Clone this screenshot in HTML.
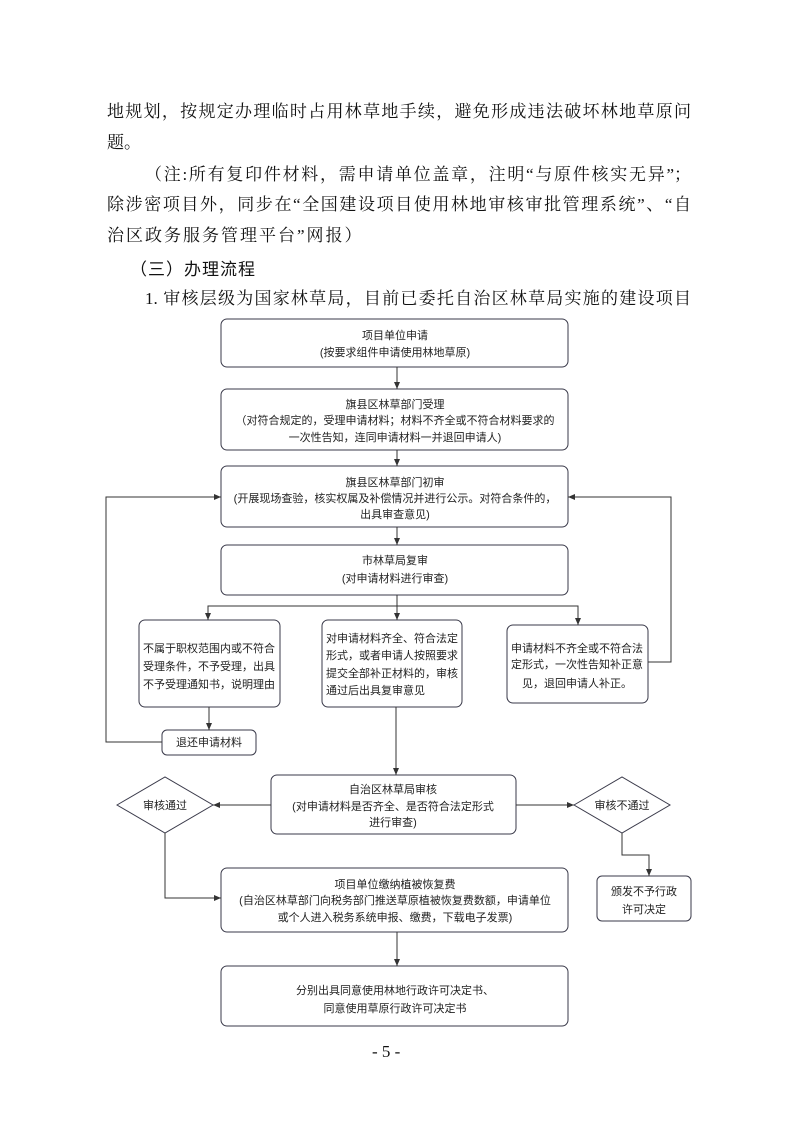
<!DOCTYPE html>
<html><head><meta charset="utf-8">
<style>
html,body{margin:0;padding:0;background:#fff;}
body{width:793px;height:1122px;position:relative;overflow:hidden;}
.t{position:absolute;font-family:"Liberation Serif","Noto Serif CJK SC",serif;font-size:17px;color:#111;line-height:20px;white-space:nowrap;}
.j{text-align:justify;text-align-last:justify;}
svg text{font-family:"Liberation Sans","Noto Sans CJK SC",sans-serif;font-size:11px;fill:#222;text-anchor:middle;}
svg text.l{text-anchor:start;}
</style></head><body>
<div class="t j" style="left:107px;top:102px;width:584px;">地规划，按规定办理临时占用林草地手续，避免形成违法破坏林地草原问</div>
<div class="t" style="left:107px;top:133px;">题。</div>
<div class="t j" style="left:145px;top:165px;width:546px;">（注:所有复印件材料，需申请单位盖章，注明“与原件核实无异”；</div>
<div class="t j" style="left:107px;top:195px;width:584px;">除涉密项目外，同步在“全国建设项目使用林地审核审批管理系统”、“自</div>
<div class="t" style="left:107px;top:226px;letter-spacing:2px;">治区政务服务管理平台”网报）</div>
<div class="t" style="left:130px;top:258px;letter-spacing:1px;font-family:'Noto Sans CJK SC',sans-serif;">（三）办理流程</div>
<div class="t j" style="left:145px;top:289px;width:546px;">1. 审核层级为国家林草局，目前已委托自治区林草局实施的建设项目</div>
<div class="t" style="left:372px;top:1042px;">- 5 -</div>

<svg width="793" height="1122" style="position:absolute;left:0;top:0" xmlns="http://www.w3.org/2000/svg">
<defs><marker id="a" markerWidth="8" markerHeight="8" refX="7" refY="4" orient="auto" markerUnits="userSpaceOnUse"><path d="M0,1 L7,4 L0,7 z" fill="#333"/></marker></defs>
<g fill="none" stroke="#3a3a4a" stroke-width="1">
<rect x="221" y="319" width="347" height="48" rx="6"/>
<rect x="221" y="389" width="347" height="61" rx="6"/>
<rect x="221" y="466" width="347" height="61" rx="6"/>
<rect x="221" y="545" width="347" height="50" rx="6"/>
<rect x="139" y="620" width="141" height="87" rx="6"/>
<rect x="322" y="620" width="140" height="87" rx="6"/>
<rect x="507" y="625" width="141" height="78" rx="6"/>
<rect x="162" y="730" width="94" height="25" rx="5"/>
<rect x="271" y="775" width="245" height="59" rx="6"/>
<polygon points="117,805 165,777 213,805 165,833"/>
<polygon points="574,805 622,777 670,805 622,833"/>
<rect x="221" y="868" width="347" height="64" rx="6"/>
<rect x="597" y="876" width="94" height="45" rx="5"/>
<rect x="221" y="966" width="347" height="60" rx="6"/>
</g>
<g fill="none" stroke="#333" stroke-width="1" marker-end="url(#a)">
<path d="M397,367 V389"/>
<path d="M397,450 V466"/>
<path d="M397,527 V545"/>
<path d="M397,595 V620"/>
<path d="M397,606 H208 V620"/>
<path d="M397,606 H578 V625"/>
<path d="M648,662 H671 V497 H568"/>
<path d="M209,707 V730"/>
<path d="M162,742 H106 V497 H221"/>
<path d="M396,707 V775"/>
<path d="M271,805 H213"/>
<path d="M516,805 H574"/>
<path d="M165,833 V898 H221"/>
<path d="M622,833 V855 H649 V876"/>
<path d="M397,932 V966"/>
</g>
<text x="395" y="339">项目单位申请</text>
<text x="395" y="356">(按要求组件申请使用林地草原)</text>
<text x="395" y="408">旗县区林草部门受理</text>
<text x="395" y="424">（对符合规定的，受理申请材料；材料不齐全或不符合材料要求的</text>
<text x="395" y="441">一次性告知，连同申请材料一并退回申请人)</text>
<text x="395" y="486">旗县区林草部门初审</text>
<text x="395" y="502">(开展现场查验，核实权属及补偿情况并进行公示。对符合条件的，</text>
<text x="395" y="518">出具审查意见)</text>
<text x="395" y="564">市林草局复审</text>
<text x="395" y="582">(对申请材料进行审查)</text>
<text x="209" y="652">不属于职权范围内或不符合</text>
<text x="209" y="670">受理条件，不予受理，出具</text>
<text x="209" y="688">不予受理通知书，说明理由</text>
<text class="l" x="326" y="642">对申请材料齐全、符合法定</text>
<text class="l" x="326" y="659">形式，或者申请人按照要求</text>
<text class="l" x="326" y="677">提交全部补正材料的，审核</text>
<text class="l" x="326" y="694">通过后出具复审意见</text>
<text x="577" y="652">申请材料不齐全或不符合法</text>
<text x="577" y="668">定形式，一次性告知补正意</text>
<text x="577" y="687">见，退回申请人补正。</text>
<text x="209" y="746">退还申请材料</text>
<text x="393" y="793">自治区林草局审核</text>
<text x="393" y="810">(对申请材料是否齐全、是否符合法定形式</text>
<text x="393" y="826">进行审查)</text>
<text x="165" y="809">审核通过</text>
<text x="622" y="809">审核不通过</text>
<text x="395" y="888">项目单位缴纳植被恢复费</text>
<text x="395" y="904">(自治区林草部门向税务部门推送草原植被恢复费数额，申请单位</text>
<text x="395" y="921">或个人进入税务系统申报、缴费，下载电子发票)</text>
<text x="644" y="895">颁发不予行政</text>
<text x="644" y="913">许可决定</text>
<text x="395" y="994">分别出具同意使用林地行政许可决定书、</text>
<text x="395" y="1012">同意使用草原行政许可决定书</text>
</svg>
</body></html>
